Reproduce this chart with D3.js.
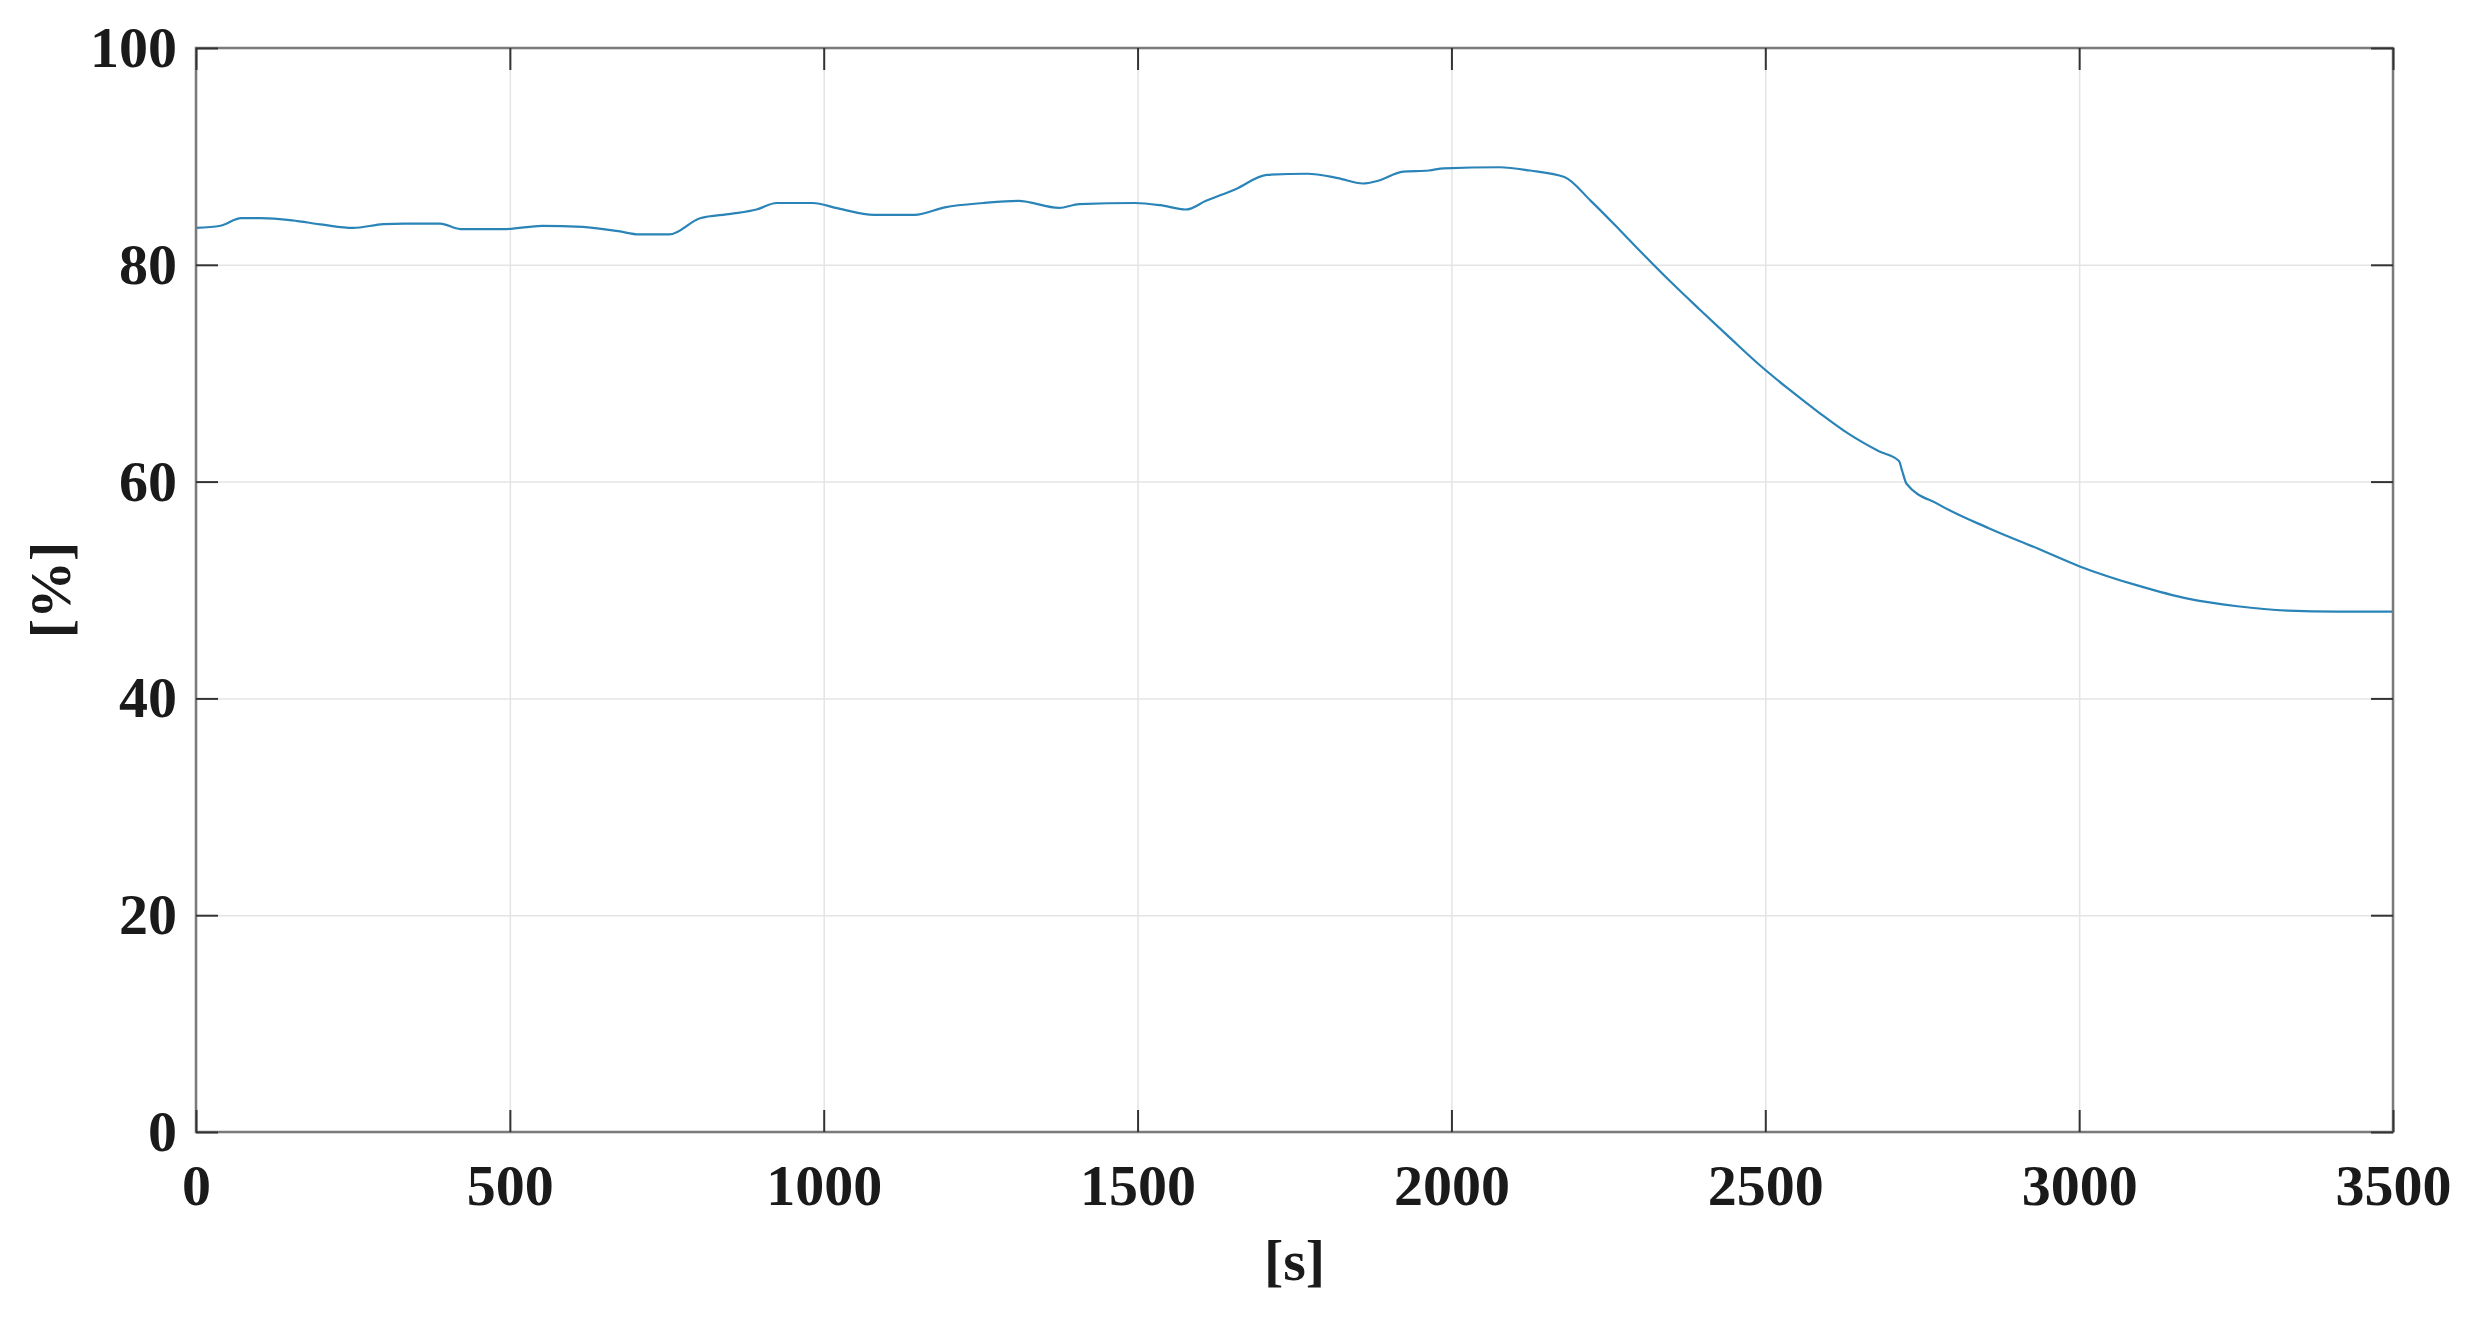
<!DOCTYPE html>
<html>
<head>
<meta charset="UTF-8">
<title>percent_vs_time</title>
<style type="text/css">
	body { margin: 0; background: #fff; }

	.axis text {
		font-family: "Liberation Serif", "Times New Roman", serif;
		font-weight: bold;
		font-size: 58px;
		fill: #1a1a1a;
	}
	.axis line { stroke: #333; stroke-width: 2px; }
	.axis path { display: none; }

	.grid line { stroke: #e4e4e4; stroke-width: 1.5px; }
	.grid path { display: none; }

	.label {
		font-family: "Liberation Serif", "Times New Roman", serif;
		font-weight: bold;
		font-size: 58px;
		fill: #1a1a1a;
		text-anchor: middle;
	}
</style>
<script type="text/javascript" src="https://cdn.jsdelivr.net/npm/d3@7/dist/d3.min.js" charset="utf-8"></script>
</head>
<body>
<div id="div_main"></div>

<script type="text/javascript">

	// time [s] and value [%]
	var times = [0, 39, 72, 104, 153, 202, 250, 299, 332, 389, 421, 494, 551, 616, 673, 706, 754,
		803, 852, 893, 925, 982, 1023, 1080, 1145, 1193, 1254, 1310, 1375, 1407, 1496, 1536, 1577,
		1609, 1657, 1706, 1770, 1819, 1859, 1883, 1923, 1964, 1988, 2077, 2125, 2180, 2222, 2270,
		2300, 2348, 2395, 2443, 2490, 2538, 2586, 2633, 2681, 2713, 2718, 2725, 2776, 2856, 2935,
		3000, 3094, 3173, 3252, 3332, 3411, 3500];
	var values = [83.4, 83.6, 84.3, 84.3, 84.1, 83.7, 83.4, 83.75, 83.8, 83.8, 83.3, 83.3, 83.6, 83.5, 83.1, 82.8, 82.8,
		84.3, 84.7, 85.1, 85.7, 85.7, 85.2, 84.6, 84.6, 85.3, 85.7, 85.9, 85.25, 85.6, 85.7, 85.5, 85.1,
		85.9, 87.0, 88.3, 88.4, 88.0, 87.5, 87.75, 88.6, 88.7, 88.9, 89.0, 88.7, 88.1, 85.9, 83.1,
		81.3, 78.5, 75.9, 73.3, 70.8, 68.5, 66.35, 64.4, 62.8, 61.9, 61.0, 59.8, 57.9, 55.7, 53.8,
		52.2, 50.4, 49.2, 48.5, 48.1, 48.0, 48.0];

	var xTicks = [0, 500, 1000, 1500, 2000, 2500, 3000, 3500];
	var yTicks = [0, 20, 40, 60, 80, 100];

	var xLabel = "[s]";
	var yLabel = "[%]";

	function draw(svg_w, svg_h, id_svg_main) {

		var left = 196, right = 2393, top = 48, bottom = 1132;
		var tick = 22;

		var data = times.map(function (t, i) { return { t: t, v: values[i] }; });

		var scaleX = d3.scaleLinear().domain([0, 3500]).range([left, right]);
		var scaleY = d3.scaleLinear().domain([0, 100]).range([bottom, top]);

		var svg = d3.select(id_svg_main)
			.append("svg")
				.attr("width", svg_w)
				.attr("height", svg_h);

		// grid
		svg.append("g")
			.attr("class", "grid")
			.attr("transform", "translate(0," + bottom + ")")
			.call(d3.axisBottom(scaleX).tickValues(xTicks).tickSize(-(bottom - top)).tickFormat(""));
		svg.append("g")
			.attr("class", "grid")
			.attr("transform", "translate(" + left + ",0)")
			.call(d3.axisLeft(scaleY).tickValues(yTicks).tickSize(-(right - left)).tickFormat(""));

		// line
		var line = d3.line()
			.curve(d3.curveMonotoneX)
			.x(function (d) { return scaleX(d.t); })
			.y(function (d) { return scaleY(d.v); });

		svg.append("path")
			.datum(data)
			.attr("d", line)
			.attr("fill", "none")
			.attr("stroke", "#2a84b8")
			.attr("stroke-width", 2.2)
			.attr("stroke-linejoin", "round");

		// box
		svg.append("rect")
			.attr("x", left)
			.attr("y", top)
			.attr("width", right - left)
			.attr("height", bottom - top)
			.attr("fill", "none")
			.attr("stroke", "#7a7a7a")
			.attr("stroke-width", 2.5);

		// axes, ticks pointing in
		var fmt = d3.format("d");
		svg.append("g")
			.attr("class", "x axis")
			.attr("transform", "translate(0," + bottom + ")")
			.call(d3.axisBottom(scaleX).tickValues(xTicks).tickFormat(fmt).tickSizeInner(-tick).tickSizeOuter(0).tickPadding(32));
		svg.append("g")
			.attr("class", "x axis")
			.attr("transform", "translate(0," + top + ")")
			.call(d3.axisTop(scaleX).tickValues(xTicks).tickSizeInner(-tick).tickSizeOuter(0).tickFormat(""));
		svg.append("g")
			.attr("class", "y axis")
			.attr("transform", "translate(" + left + ",0)")
			.call(d3.axisLeft(scaleY).tickValues(yTicks).tickFormat(fmt).tickSizeInner(-tick).tickSizeOuter(0).tickPadding(19));
		svg.append("g")
			.attr("class", "y axis")
			.attr("transform", "translate(" + right + ",0)")
			.call(d3.axisRight(scaleY).tickValues(yTicks).tickSizeInner(-tick).tickSizeOuter(0).tickFormat(""));

		// axis labels
		svg.append("text")
			.attr("class", "label")
			.attr("x", (left + right) / 2)
			.attr("y", 1280)
			.text(xLabel);
		svg.append("text")
			.attr("class", "label")
			.attr("transform", "translate(70," + (top + bottom) / 2 + ") rotate(-90)")
			.text(yLabel);
	}

	draw(2476, 1317, "#div_main");

</script>
</body>
</html>
